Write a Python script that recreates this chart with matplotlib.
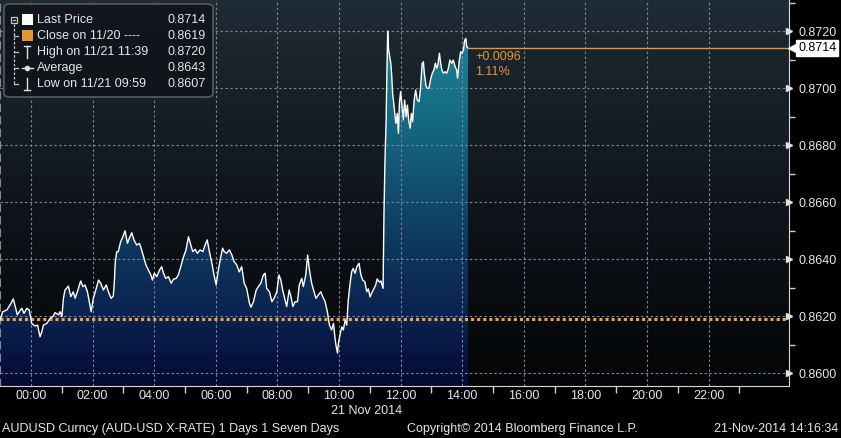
import numpy as np
import matplotlib
matplotlib.use('Agg')
import matplotlib.pyplot as plt
from matplotlib.colors import LinearSegmentedColormap
from matplotlib.patches import FancyBboxPatch, Rectangle
from matplotlib.lines import Line2D

plt.rcParams['font.family'] = ['Liberation Sans', 'DejaVu Sans']

# AUDUSD intraday, hours from 00:00 on 21 Nov 2014 (negative = 20 Nov)
hours = [-1.01, -0.92, -0.79, -0.68, -0.58, -0.50, -0.45, -0.36, -0.30, -0.23, -0.14, -0.06,
         0.02, 0.13, 0.21, 0.29, 0.35, 0.40, 0.51, 0.62, 0.71, 0.78, 0.89, 0.94, 1.00,
         1.05, 1.10, 1.21, 1.29, 1.37, 1.43, 1.52, 1.61, 1.68, 1.75, 1.83, 1.89, 1.95,
         2.02, 2.10, 2.19, 2.26, 2.35, 2.44, 2.51, 2.60, 2.67, 2.71, 2.73, 2.78, 2.83,
         2.91, 2.98, 3.05, 3.13, 3.19, 3.27, 3.34, 3.43, 3.52, 3.59, 3.67, 3.73, 3.81,
         3.89, 3.94, 4.00, 4.08, 4.17, 4.24, 4.30, 4.37, 4.46, 4.55, 4.62, 4.71, 4.78,
         4.86, 4.95, 5.03, 5.11, 5.19, 5.25, 5.33, 5.40, 5.49, 5.58, 5.65, 5.72, 5.79,
         5.87, 5.94, 6.01, 6.08, 6.16, 6.22, 6.27, 6.35, 6.44, 6.52, 6.59, 6.68, 6.76,
         6.84, 6.92, 7.00, 7.09, 7.14, 7.22, 7.31, 7.38, 7.46, 7.54, 7.60, 7.65, 7.74,
         7.82, 7.89, 7.98, 8.05, 8.11, 8.17, 8.25, 8.30, 8.38, 8.44, 8.50, 8.57, 8.65,
         8.71, 8.79, 8.84, 8.92, 8.98, 9.04, 9.11, 9.19, 9.25, 9.33, 9.41, 9.47, 9.55,
         9.62, 9.69, 9.76, 9.82, 9.87, 9.90, 9.95, 9.98, 10.03, 10.09, 10.14, 10.20,
         10.25, 10.30, 10.36, 10.41, 10.46, 10.52, 10.58, 10.65, 10.71, 10.77, 10.84,
         10.90, 10.95, 11.01, 11.06, 11.11, 11.19, 11.24, 11.31, 11.36, 11.43, 11.46,
         11.49, 11.53, 11.55, 11.58, 11.61, 11.63, 11.68, 11.71, 11.74, 11.79, 11.82,
         11.85, 11.89, 11.93, 11.96, 12.00, 12.05, 12.09, 12.13, 12.18, 12.22, 12.26,
         12.31, 12.35, 12.39, 12.44, 12.49, 12.54, 12.60, 12.65, 12.70, 12.74, 12.77,
         12.83, 12.87, 12.92, 12.98, 13.03, 13.08, 13.13, 13.17, 13.21, 13.26, 13.30,
         13.34, 13.39, 13.44, 13.50, 13.55, 13.60, 13.66, 13.71, 13.77, 13.82, 13.85,
         13.90, 13.95, 13.99, 14.04, 14.08, 14.12, 14.15, 14.19]
prices = [0.86186, 0.86215, 0.86221, 0.86239, 0.86260, 0.86227, 0.86204, 0.86219, 0.86227, 0.86209, 0.86227, 0.86221,
          0.86174, 0.86165, 0.86168, 0.86127, 0.86145, 0.86168, 0.86174, 0.86192, 0.86198, 0.86212, 0.86204, 0.86215, 0.86198,
          0.86262, 0.86291, 0.86305, 0.86268, 0.86285, 0.86262, 0.86291, 0.86323, 0.86303, 0.86309, 0.86285, 0.86250, 0.86215,
          0.86262, 0.86291, 0.86326, 0.86315, 0.86291, 0.86309, 0.86285, 0.86262, 0.86270, 0.86332, 0.86385, 0.86425, 0.86426,
          0.86461, 0.86478, 0.86499, 0.86455, 0.86473, 0.86492, 0.86467, 0.86449, 0.86455, 0.86432, 0.86402, 0.86379, 0.86361,
          0.86344, 0.86326, 0.86350, 0.86338, 0.86361, 0.86373, 0.86350, 0.86332, 0.86338, 0.86315, 0.86329, 0.86332, 0.86344,
          0.86373, 0.86408, 0.86432, 0.86478, 0.86449, 0.86426, 0.86434, 0.86420, 0.86432, 0.86426, 0.86449, 0.86467, 0.86426,
          0.86385, 0.86344, 0.86309, 0.86361, 0.86408, 0.86438, 0.86426, 0.86420, 0.86432, 0.86414, 0.86391, 0.86379, 0.86355,
          0.86373, 0.86315, 0.86297, 0.86245, 0.86231, 0.86250, 0.86291, 0.86303, 0.86315, 0.86344, 0.86350, 0.86297, 0.86285,
          0.86250, 0.86262, 0.86285, 0.86344, 0.86326, 0.86291, 0.86256, 0.86233, 0.86291, 0.86268, 0.86233, 0.86250, 0.86250,
          0.86309, 0.86332, 0.86303, 0.86344, 0.86414, 0.86361, 0.86315, 0.86285, 0.86262, 0.86274, 0.86285, 0.86268, 0.86250,
          0.86215, 0.86168, 0.86151, 0.86174, 0.86122, 0.86098, 0.86070, 0.86104, 0.86133, 0.86162, 0.86151, 0.86186,
          0.86168, 0.86256, 0.86315, 0.86355, 0.86367, 0.86350, 0.86373, 0.86385, 0.86344, 0.86326, 0.86320,
          0.86285, 0.86295, 0.86267, 0.86281, 0.86291, 0.86309, 0.86330, 0.86319, 0.86323, 0.86297, 0.86560,
          0.86736, 0.86888, 0.87028, 0.87200, 0.87133, 0.87122, 0.87087, 0.87046, 0.86981, 0.86934, 0.86899,
          0.86876, 0.86911, 0.86841, 0.86946, 0.86987, 0.86934, 0.86888, 0.86958, 0.86899, 0.86940, 0.86888,
          0.86859, 0.86911, 0.86882, 0.86958, 0.86993, 0.86958, 0.86952, 0.87005, 0.87087, 0.87092, 0.87052,
          0.87005, 0.86999, 0.86999, 0.87034, 0.87052, 0.87063, 0.87087, 0.87069, 0.87081, 0.87122, 0.87087,
          0.87063, 0.87052, 0.87057, 0.87052, 0.87069, 0.87098, 0.87087, 0.87098, 0.87075, 0.87063, 0.87034,
          0.87092, 0.87127, 0.87122, 0.87133, 0.87168, 0.87174, 0.87145, 0.87140]

close_prev = 0.8619
last_price = 0.8714
change_text = ['+0.0096', '1.11%']
legend_labels = ['Last Price', 'Close on 11/20 ----', 'High on 11/21 11:39', 'Average', 'Low on 11/21 09:59']
legend_values = ['0.8714', '0.8619', '0.8720', '0.8643', '0.8607']
hour_ticks = list(range(0, 24, 2))
hour_labels = ['%02d:00' % h for h in hour_ticks]
price_ticks = [0.8600, 0.8620, 0.8640, 0.8660, 0.8680, 0.8700, 0.8720]

W, H = 841, 438
ORANGE = '#e8952f'
TXT = '#e6e6e6'
FS = 9


def fx(px):
    return px / W


def fy(py):
    return 1 - py / H


fig = plt.figure(figsize=(W / 100, H / 100), dpi=100, facecolor='black')
ax = fig.add_axes([0, fy(386), fx(788.6), 386 / H])
ax.set_facecolor('black')

xlim = (-1.01, 24.6)
ylim = (0.859544, 0.873088)

# background gradient of plot area
bg_cmap = LinearSegmentedColormap.from_list('bg', ['#040506', '#10161c', '#1f2b35'])
ax.imshow(np.linspace(0, 1, 256).reshape(-1, 1), extent=(0, 1, 0, 1), transform=ax.transAxes,
          cmap=bg_cmap, aspect='auto', origin='lower', zorder=0)

# gradient area under the price line
fill_cmap = LinearSegmentedColormap.from_list(
    'fill', [(0, '#050a35'), (0.2, '#0a2350'), (0.42, '#0f3b60'), (0.65, '#135e7a'), (1, '#1c879b')])
poly = ax.fill_between(hours, prices, ylim[0], color='none', lw=0)
im = ax.imshow(np.linspace(0, 1, 256).reshape(-1, 1), extent=(hours[0], hours[-1], ylim[0], 0.8722),
               cmap=fill_cmap, aspect='auto', origin='lower', zorder=1)
im.set_clip_path(poly.get_paths()[0], transform=ax.transData)

# grid
for yv in price_ticks:
    ax.axhline(yv, color='#7d8790', lw=0.8, ls=(0, (2.2, 2.2)), zorder=2)
for xv in hour_ticks:
    ax.axvline(xv, color='#7d8790', lw=0.8, ls=(0, (2.2, 2.2)), zorder=2)

ax.axhline(close_prev, color='#f3a24a', lw=2.2, ls=(0, (1, 1)), zorder=3)
ax.plot(hours, prices, color='white', lw=1.0, zorder=4)
ax.hlines(last_price, hours[-1], xlim[1], color=ORANGE, lw=1.0, zorder=4)
ax.annotate('\n'.join(change_text), xy=(hours[-1], last_price), xytext=(5, -2),
            textcoords='offset points', ha='left', va='top', color=ORANGE, fontsize=FS,
            linespacing=1.3, zorder=5)

ax.set_xlim(*xlim)
ax.set_ylim(*ylim)

# right price axis
ax.yaxis.tick_right()
ax.set_yticks(price_ticks)
ax.set_yticklabels(['%.4f' % v for v in price_ticks])
ax.set_yticks(np.arange(0.8610, 0.8730, 0.0020), minor=True)
ax.tick_params(axis='y', which='major', length=0, pad=7, labelcolor=TXT, labelsize=FS)
ax.tick_params(axis='y', which='minor', length=4, width=1, color='#d0d0d0')
ax.plot([1.0] * len(price_ticks), price_ticks, marker='>', ms=5, color='#e0e0e0', ls='none',
        transform=ax.get_yaxis_transform(), clip_on=False, zorder=6)

# last price tag
ax.text(1.012, last_price, '%.4f' % last_price, transform=ax.get_yaxis_transform(),
        ha='left', va='center', color='black', fontsize=FS,
        bbox=dict(boxstyle='square,pad=0.15', fc='white', ec='white'), clip_on=False, zorder=7)
ax.plot([1.006], [last_price], marker='<', ms=7, color='white', transform=ax.get_yaxis_transform(),
        clip_on=False, zorder=7)

# bottom time axis
ax.set_xticks(hour_ticks)
ax.set_xticklabels(hour_labels)
ax.set_xticks(range(1, 24, 2), minor=True)
ax.tick_params(axis='x', which='major', length=0, pad=3, labelcolor=TXT, labelsize=FS)
ax.tick_params(axis='x', which='minor', length=5, width=1, color='#d0d0d0')

ax.spines['top'].set_visible(False)
ax.spines['right'].set_color('#d8d8d8')
ax.spines['bottom'].set_color('#d8d8d8')
ax.spines['left'].set_color('#8a8a8a')
ax.spines['left'].set_linestyle((0, (3, 3)))
ax.spines['left'].set_linewidth(1.5)

fig.text(fx(367), fy(411), '21 Nov 2014', ha='center', va='center', color=TXT, fontsize=FS)
fig.text(fx(2), fy(429), 'AUDUSD Curncy (AUD-USD X-RATE) 1 Days 1 Seven Days', ha='left', va='center',
         color=TXT, fontsize=FS)
fig.text(fx(522), fy(429), 'Copyright\u00a9 2014 Bloomberg Finance L.P.', ha='center', va='center',
         color=TXT, fontsize=FS)
fig.text(fx(838), fy(429), '21-Nov-2014 14:16:34', ha='right', va='center', color=TXT, fontsize=FS)

# legend box
fig.add_artist(FancyBboxPatch((fx(4), fy(97)), fx(209), 93 / H, boxstyle='round,pad=0,rounding_size=0.008',
                              transform=fig.transFigure, fc='#10151a', ec='#5a5e62', lw=1.2, alpha=0.95))
rows = [20, 36, 52, 68, 84]
tree = dict(color='#c8c8c8', lw=0.9, transform=fig.transFigure)
fig.add_artist(Line2D([fx(14), fx(14)], [fy(24), fy(84)], ls=(0, (2, 1.5)), **tree))
for r in rows[1:]:
    fig.add_artist(Line2D([fx(14), fx(18)], [fy(r), fy(r)], **tree))
fig.add_artist(Rectangle((fx(11), fy(23)), fx(6), 6 / H, fc='#10151a', ec='#c8c8c8', lw=0.9,
                         transform=fig.transFigure))
fig.add_artist(Line2D([fx(12.5), fx(15.5)], [fy(20), fy(20)], **tree))
fig.add_artist(Rectangle((fx(22), fy(25)), fx(11), 11 / H, fc='white', ec='none', transform=fig.transFigure))
fig.add_artist(Rectangle((fx(22), fy(41)), fx(11), 11 / H, fc=ORANGE, ec='none', transform=fig.transFigure))
icon = dict(color='#e0e0e0', lw=1.0, transform=fig.transFigure)
fig.add_artist(Line2D([fx(24), fx(30)], [fy(46), fy(46)], **icon))
fig.add_artist(Line2D([fx(27), fx(27)], [fy(46), fy(58)], **icon))
fig.add_artist(Line2D([fx(22), fx(33)], [fy(68), fy(68)], **icon))
fig.add_artist(Line2D([fx(27)], [fy(68)], marker='o', ms=3, color='#e0e0e0', transform=fig.transFigure))
fig.add_artist(Line2D([fx(27), fx(27)], [fy(78), fy(90)], **icon))
fig.add_artist(Line2D([fx(24), fx(30)], [fy(90), fy(90)], **icon))
for r, lab, val in zip(rows, legend_labels, legend_values):
    fig.text(fx(37), fy(r), lab, ha='left', va='center', color=TXT, fontsize=FS)
    fig.text(fx(206), fy(r), val, ha='right', va='center', color=TXT, fontsize=FS)

fig.savefig('out.png', dpi=100, facecolor='black')
